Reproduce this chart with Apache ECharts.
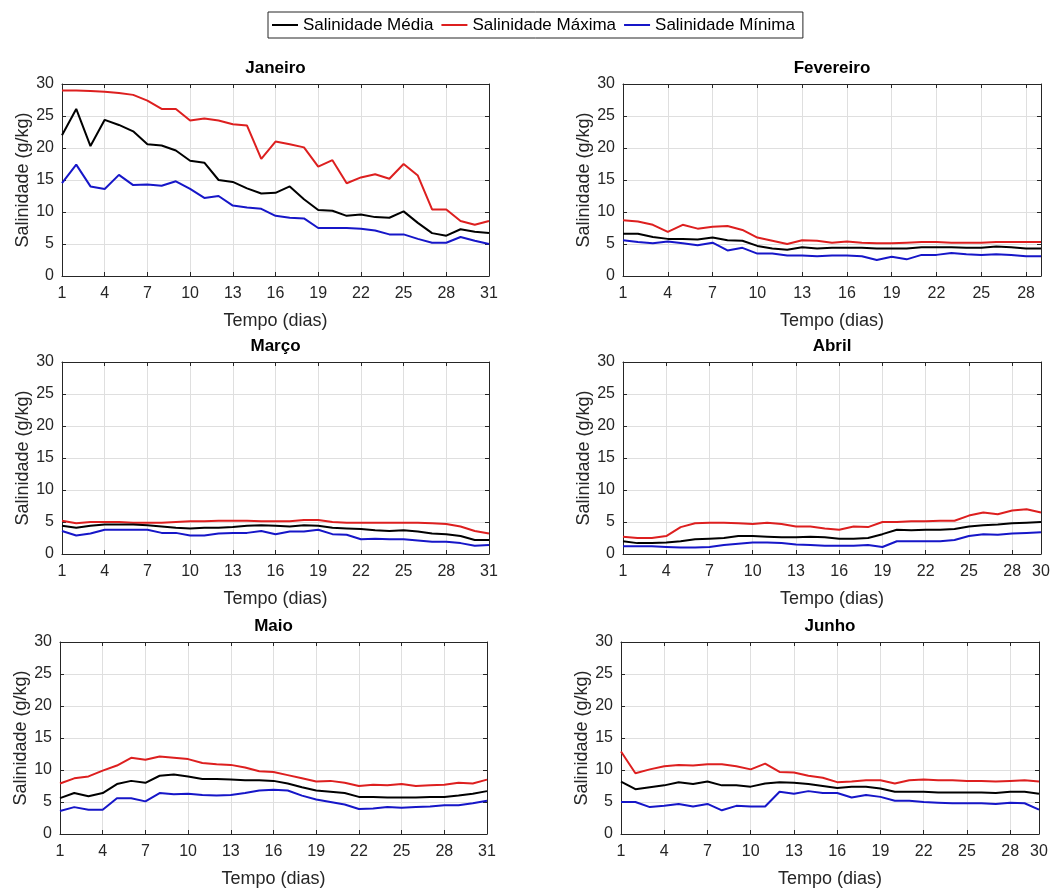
<!DOCTYPE html>
<html>
<head>
<meta charset="utf-8">
<script src="https://cdn.jsdelivr.net/npm/echarts@6/dist/echarts.min.js"></script>
<style>
  html, body { margin: 0; padding: 0; background: #fff; }
  #chart { width: 1064px; height: 889px; }
</style>
</head>
<body>
<div id="chart"></div>
<script>
// nomes das séries e dos meses
const seriesNames = ['Salinidade Média', 'Salinidade Máxima', 'Salinidade Mínima'];
const monthNames = ['Janeiro', 'Fevereiro', 'Março', 'Abril', 'Maio', 'Junho'];

// Janeiro (31 dias)
const janMedia = [22.0, 26.1, 20.3, 24.4, 23.6, 22.6, 20.6, 20.4, 19.6, 18.0, 17.7, 15.0, 14.7, 13.7, 12.9, 13.0, 14.0, 12.0, 10.3, 10.2, 9.4, 9.6, 9.2, 9.1, 10.1, 8.3, 6.7, 6.3, 7.3, 6.9, 6.7];
const janMax = [29.0, 29.0, 28.9, 28.8, 28.6, 28.3, 27.4, 26.1, 26.1, 24.3, 24.6, 24.3, 23.7, 23.5, 18.3, 21.0, 20.6, 20.1, 17.1, 18.1, 14.5, 15.4, 15.9, 15.2, 17.5, 15.7, 10.4, 10.4, 8.6, 8.0, 8.6];
const janMin = [14.5, 17.4, 14.0, 13.6, 15.8, 14.2, 14.3, 14.1, 14.8, 13.6, 12.2, 12.5, 11.0, 10.7, 10.5, 9.4, 9.1, 9.0, 7.5, 7.5, 7.5, 7.4, 7.1, 6.5, 6.5, 5.8, 5.2, 5.2, 6.1, 5.5, 5.0];

// Fevereiro (29 dias)
const fevMedia = [6.6, 6.6, 6.1, 5.8, 5.8, 5.7, 6.0, 5.6, 5.5, 4.7, 4.3, 4.1, 4.5, 4.3, 4.4, 4.4, 4.4, 4.3, 4.3, 4.3, 4.5, 4.5, 4.5, 4.4, 4.4, 4.6, 4.5, 4.3, 4.3];
const fevMax = [8.7, 8.5, 8.0, 6.9, 8.0, 7.4, 7.7, 7.8, 7.2, 6.0, 5.5, 5.0, 5.6, 5.5, 5.2, 5.4, 5.2, 5.1, 5.1, 5.2, 5.3, 5.3, 5.2, 5.2, 5.2, 5.3, 5.3, 5.3, 5.3];
const fevMin = [5.6, 5.3, 5.1, 5.4, 5.1, 4.8, 5.2, 4.0, 4.4, 3.5, 3.5, 3.2, 3.2, 3.1, 3.2, 3.2, 3.1, 2.5, 3.0, 2.6, 3.3, 3.3, 3.6, 3.4, 3.3, 3.4, 3.3, 3.1, 3.1];

// Março (31 dias)
const marMedia = [4.4, 4.1, 4.4, 4.6, 4.6, 4.6, 4.5, 4.3, 4.1, 4.0, 4.1, 4.1, 4.2, 4.4, 4.5, 4.4, 4.3, 4.5, 4.4, 4.1, 4.0, 3.9, 3.7, 3.6, 3.7, 3.5, 3.2, 3.1, 2.8, 2.2, 2.2];
const marMax = [5.2, 4.8, 5.0, 5.0, 5.0, 4.9, 4.9, 4.9, 5.0, 5.1, 5.1, 5.2, 5.2, 5.2, 5.1, 5.1, 5.1, 5.3, 5.3, 5.0, 4.9, 4.9, 4.9, 4.9, 4.9, 4.9, 4.8, 4.7, 4.3, 3.6, 3.2];
const marMin = [3.6, 2.9, 3.2, 3.8, 3.8, 3.8, 3.8, 3.3, 3.3, 2.9, 2.9, 3.2, 3.3, 3.3, 3.6, 3.1, 3.5, 3.5, 3.8, 3.1, 3.0, 2.3, 2.4, 2.3, 2.3, 2.1, 1.9, 1.9, 1.7, 1.3, 1.4];

// Abril (30 dias)
const abrMedia = [2.0, 1.7, 1.7, 1.8, 2.0, 2.3, 2.4, 2.5, 2.8, 2.8, 2.7, 2.6, 2.6, 2.7, 2.6, 2.4, 2.4, 2.5, 3.1, 3.8, 3.7, 3.8, 3.8, 3.9, 4.3, 4.5, 4.6, 4.8, 4.9, 5.0];
const abrMax = [2.7, 2.5, 2.5, 2.8, 4.2, 4.8, 4.9, 4.9, 4.8, 4.7, 4.9, 4.7, 4.3, 4.3, 4.0, 3.8, 4.3, 4.2, 5.0, 5.0, 5.1, 5.1, 5.2, 5.2, 6.0, 6.5, 6.2, 6.8, 7.0, 6.5];
const abrMin = [1.2, 1.2, 1.2, 1.1, 1.0, 1.0, 1.1, 1.4, 1.6, 1.8, 1.8, 1.7, 1.5, 1.4, 1.3, 1.3, 1.3, 1.4, 1.1, 2.0, 2.0, 2.0, 2.0, 2.2, 2.8, 3.1, 3.0, 3.2, 3.3, 3.4];

// Maio (31 dias)
const maiMedia = [5.6, 6.4, 5.9, 6.4, 7.8, 8.3, 8.0, 9.1, 9.3, 9.0, 8.6, 8.6, 8.5, 8.4, 8.4, 8.3, 7.9, 7.3, 6.8, 6.6, 6.4, 5.8, 5.8, 5.7, 5.7, 5.7, 5.8, 5.8, 6.0, 6.3, 6.7];
const maiMax = [7.9, 8.7, 9.0, 9.9, 10.7, 11.9, 11.6, 12.1, 11.9, 11.7, 11.1, 10.9, 10.8, 10.4, 9.8, 9.7, 9.2, 8.7, 8.2, 8.3, 8.0, 7.5, 7.7, 7.6, 7.8, 7.5, 7.6, 7.7, 8.0, 7.9, 8.5];
const maiMin = [3.6, 4.2, 3.8, 3.8, 5.6, 5.6, 5.1, 6.4, 6.2, 6.3, 6.1, 6.0, 6.1, 6.4, 6.8, 6.9, 6.8, 6.0, 5.4, 5.0, 4.6, 3.9, 4.0, 4.2, 4.1, 4.2, 4.3, 4.5, 4.5, 4.8, 5.2];

// Junho (30 dias)
const junMedia = [8.2, 7.0, 7.3, 7.6, 8.1, 7.8, 8.2, 7.6, 7.6, 7.4, 7.9, 8.1, 8.0, 7.8, 7.5, 7.2, 7.4, 7.4, 7.1, 6.6, 6.6, 6.6, 6.5, 6.5, 6.5, 6.5, 6.4, 6.6, 6.6, 6.3];
const junMax = [12.9, 9.5, 10.1, 10.6, 10.8, 10.7, 10.9, 10.9, 10.6, 10.1, 11.0, 9.7, 9.6, 9.1, 8.8, 8.1, 8.2, 8.4, 8.4, 7.9, 8.4, 8.5, 8.4, 8.4, 8.3, 8.3, 8.2, 8.3, 8.4, 8.2];
const junMin = [5.0, 5.0, 4.2, 4.4, 4.7, 4.3, 4.7, 3.7, 4.4, 4.3, 4.3, 6.6, 6.3, 6.7, 6.4, 6.4, 5.7, 6.1, 5.8, 5.2, 5.2, 5.0, 4.9, 4.8, 4.8, 4.8, 4.7, 4.9, 4.8, 3.8];

// marcas do eixo x
const ticks31 = [1, 4, 7, 10, 13, 16, 19, 22, 25, 28, 31];
const ticks30 = [1, 4, 7, 10, 13, 16, 19, 22, 25, 28, 30];
const ticks29 = [1, 4, 7, 10, 13, 16, 19, 22, 25, 28];

const monthData = [
    [janMedia, janMax, janMin],
    [fevMedia, fevMax, fevMin],
    [marMedia, marMax, marMin],
    [abrMedia, abrMax, abrMin],
    [maiMedia, maiMax, maiMin],
    [junMedia, junMax, junMin]
];
const monthTicks = [ticks31, ticks29, ticks31, ticks30, ticks31, ticks30];

// posição de cada painel (px)
const layout = [
    { left: 62, top: 84, width: 427 },
    { left: 623, top: 84, width: 418 },
    { left: 62, top: 362, width: 427 },
    { left: 623, top: 362, width: 418 },
    { left: 60, top: 642, width: 427 },
    { left: 621, top: 642, width: 418 }
];
const panelHeight = 192;
const colors = ['#000000', '#dd1f1f', '#1616c8'];
const fontFamily = 'Liberation Sans, Arial, sans-serif';
const axisColor = '#262626';
const gridColor = '#dfdfdf';

let myChart = echarts.init(document.getElementById('chart'));

let grids = [], titles = [], xAxes = [], yAxes = [], series = [];

monthNames.forEach(function(name, i) {
    let pos = layout[i];
    let values = monthData[i];
    let nDays = values[0].length;
    let ticks = monthTicks[i];

    grids.push({ left: pos.left, top: pos.top, width: pos.width, height: panelHeight, containLabel: false });

    titles.push({
        text: name,
        left: pos.left + pos.width / 2,
        top: pos.top - 24,
        textAlign: 'center',
        padding: 0,
        textStyle: { fontFamily: fontFamily, fontSize: 17, fontWeight: 'bold', color: '#000' }
    });

    // eixo x inferior
    xAxes.push({
        type: 'value',
        gridIndex: i,
        position: 'bottom',
        min: 1,
        max: nDays,
        name: 'Tempo (dias)',
        nameLocation: 'middle',
        nameGap: 36,
        nameTextStyle: { fontFamily: fontFamily, fontSize: 18, color: axisColor },
        axisLine: { show: true, onZero: false, lineStyle: { color: axisColor, width: 1 } },
        axisTick: { show: true, inside: true, length: 4, customValues: ticks, lineStyle: { color: axisColor } },
        axisLabel: { customValues: ticks, margin: 10, fontFamily: fontFamily, fontSize: 16, color: axisColor },
        splitLine: { show: true, lineStyle: { color: gridColor, width: 1 } }
    });
    // eixo x superior (caixa)
    xAxes.push({
        type: 'value',
        gridIndex: i,
        position: 'top',
        min: 1,
        max: nDays,
        axisLine: { show: true, onZero: false, lineStyle: { color: axisColor, width: 1 } },
        axisTick: { show: true, inside: true, length: 4, customValues: ticks, lineStyle: { color: axisColor } },
        axisLabel: { show: false },
        splitLine: { show: false }
    });

    // eixo y esquerdo
    yAxes.push({
        type: 'value',
        gridIndex: i,
        position: 'left',
        min: 0,
        max: 30,
        interval: 5,
        name: 'Salinidade (g/kg)',
        nameLocation: 'middle',
        nameGap: 30,
        nameTextStyle: { fontFamily: fontFamily, fontSize: 18, color: axisColor },
        axisLine: { show: true, onZero: false, lineStyle: { color: axisColor, width: 1 } },
        axisTick: { show: true, inside: true, length: 4, lineStyle: { color: axisColor } },
        axisLabel: { margin: 8, fontFamily: fontFamily, fontSize: 16, color: axisColor },
        splitLine: { show: true, lineStyle: { color: gridColor, width: 1 } }
    });
    // eixo y direito (caixa)
    yAxes.push({
        type: 'value',
        gridIndex: i,
        position: 'right',
        min: 0,
        max: 30,
        interval: 5,
        axisLine: { show: true, onZero: false, lineStyle: { color: axisColor, width: 1 } },
        axisTick: { show: true, inside: true, length: 4, lineStyle: { color: axisColor } },
        axisLabel: { show: false },
        splitLine: { show: false }
    });

    seriesNames.forEach(function(sName, k) {
        series.push({
            name: sName,
            type: 'line',
            xAxisIndex: 2 * i,
            yAxisIndex: 2 * i,
            symbol: 'none',
            z: 3 - k,
            lineStyle: { color: colors[k], width: 2 },
            itemStyle: { color: colors[k] },
            data: values[k].map(function(v, d) { return [d + 1, v]; })
        });
    });
});

let option = {
    animation: false,
    backgroundColor: '#ffffff',
    title: titles,
    legend: {
        data: seriesNames,
        left: 268,
        top: 12,
        orient: 'horizontal',
        icon: 'rect',
        itemWidth: 26,
        itemHeight: 2,
        itemGap: 8,
        padding: [4, 8, 4, 4],
        borderColor: axisColor,
        borderWidth: 1,
        backgroundColor: '#ffffff',
        textStyle: { fontFamily: fontFamily, fontSize: 17, color: '#000', lineHeight: 18 }
    },
    grid: grids,
    xAxis: xAxes,
    yAxis: yAxes,
    series: series
};

myChart.setOption(option);

window.addEventListener('resize', function() {
    myChart.resize();
});
</script>
</body>
</html>
